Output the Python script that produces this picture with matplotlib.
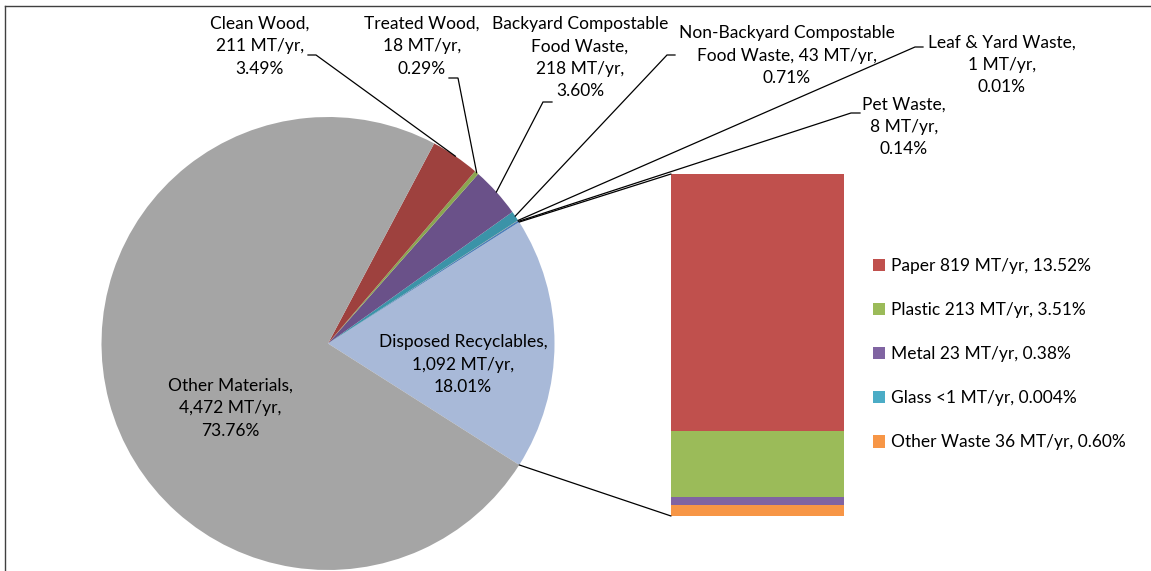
import matplotlib
matplotlib.use("Agg")
import matplotlib.pyplot as plt
from matplotlib.patches import ConnectionPatch
import numpy as np

plt.rcParams['font.family'] = ['Lato', 'DejaVu Sans']

# ---------------- data ----------------
pie_categories = ["Disposed Recyclables", "Pet Waste", "Leaf & Yard Waste",
                  "Non-Backyard Compostable Food Waste", "Backyard Compostable Food Waste",
                  "Treated Wood", "Clean Wood", "Other Materials"]
pie_values = [1092, 8, 1, 43, 218, 18, 211, 4472]
pie_labels = ["Disposed Recyclables,\n1,092 MT/yr,\n18.01%",
              "Pet Waste,\n8 MT/yr,\n0.14%",
              "Leaf & Yard Waste,\n1 MT/yr,\n0.01%",
              "Non-Backyard Compostable\nFood Waste, 43 MT/yr,\n0.71%",
              "Backyard Compostable\nFood Waste,\n218 MT/yr,\n3.60%",
              "Treated Wood,\n18 MT/yr,\n0.29%",
              "Clean Wood,\n211 MT/yr,\n3.49%",
              "Other Materials,\n4,472 MT/yr,\n73.76%"]
pie_colors = ["#A8B9D8", "#4A7EBB", "#D3823E", "#3B93A8", "#6A5189",
              "#8AA650", "#9E413E", "#A5A5A5"]

bar_categories = ["Other Waste", "Glass", "Metal", "Plastic", "Paper"]
bar_values = [36, 0.24, 23, 213, 819]
bar_labels = ["Other Waste 36 MT/yr, 0.60%", "Glass <1 MT/yr, 0.004%",
              "Metal 23 MT/yr, 0.38%", "Plastic 213 MT/yr, 3.51%",
              "Paper 819 MT/yr, 13.52%"]
bar_colors = ["#F79646", "#4BACC6", "#8064A2", "#9BBB59", "#C0504D"]

# ---------------- layout ----------------
W, H = 1151, 571
def Y(p):
    return H - p

fig = plt.figure(figsize=(W / 100, H / 100), dpi=100)
ax = fig.add_axes([0, 0, 1, 1])

cx, cy, R = 328, 343.5, 226.5
dr_angle = pie_values[0] / sum(pie_values) * 360.0
wedges, _ = ax.pie(pie_values, colors=pie_colors, startangle=-dr_angle / 2,
                   counterclock=True, center=(cx, Y(cy)), radius=R,
                   wedgeprops=dict(linewidth=0), frame=True)
ax.set_xlim(0, W)
ax.set_ylim(0, H)
ax.set_aspect('equal')
ax.axis('off')

# chart border (top and left visible)
ax.plot([5, W + 5], [Y(6), Y(6)], color="#404040", lw=1.0, clip_on=False)
ax.plot([5, 5], [Y(6), -5], color="#404040", lw=1.0, clip_on=False)

fs = 12.5
ls = 1.5
# label layout: (center x, center y, tick start x, tick end x / leader start, tick y)
label_layout = {
    "Clean Wood": (260, 46, 308, 316, 55),
    "Treated Wood": (422, 46, 449, 458, 78),
    "Backyard Compostable Food Waste": (580, 57.5, 552, 543, 102),
    "Non-Backyard Compostable Food Waste": (787, 55.5, 675, 667, 55),
    "Leaf & Yard Waste": (1002, 65, 923, 915, 47),
    "Pet Waste": (904, 127, 860, 851, 113),
}

for w, cat, lab in zip(wedges, pie_categories, pie_labels):
    mid = np.deg2rad((w.theta1 + w.theta2) / 2)
    ex = w.center[0] + w.r * np.cos(mid)
    ey = w.center[1] + w.r * np.sin(mid)
    if cat in label_layout:
        lx, ly, t0, t1, ty = label_layout[cat]
        ax.text(lx, Y(ly), lab, ha='center', va='center', fontsize=fs,
                linespacing=ls, color='black')
        ax.plot([t0, t1, ex], [Y(ty), Y(ty), ey], color='black', lw=0.9,
                solid_joinstyle='miter')
    elif cat == "Other Materials":
        ax.text(230, Y(408), lab, ha='center', va='center', fontsize=fs,
                linespacing=ls, color='black')
    else:
        ax.text(463, Y(365), lab, ha='center', va='center', fontsize=fs,
                linespacing=ls, color='black')

# ---------------- bar of pie ----------------
bx0, bx1, by0, by1 = 671, 844, 174, 516
ax2 = fig.add_axes([bx0 / W, (H - by1) / H, (bx1 - bx0) / W, (by1 - by0) / H])
bottom = 0
handles = []
for v, c, lab in zip(bar_values, bar_colors, bar_labels):
    b = ax2.bar(0, v, bottom=bottom, width=1.0, color=c, linewidth=0, label=lab)
    handles.append(b)
    bottom += v
ax2.set_xlim(-0.5, 0.5)
ax2.set_ylim(0, sum(bar_values))
ax2.axis('off')

# connectors
t_up = np.deg2rad(wedges[0].theta2)
t_lo = np.deg2rad(wedges[0].theta1)
for t, yb in [(t_up, sum(bar_values)), (t_lo, 0)]:
    p = (cx + R * np.cos(t), Y(cy) + R * np.sin(t))
    con = ConnectionPatch(xyA=p, coordsA=ax.transData, xyB=(-0.5, yb),
                          coordsB=ax2.transData, color='black', lw=0.9)
    fig.add_artist(con)

leg = fig.legend(handles[::-1], bar_labels[::-1], loc='upper left',
                 bbox_to_anchor=(873 / W, 1 - 258 / H), frameon=False,
                 fontsize=fs, handlelength=0.7, handleheight=0.7,
                 handletextpad=0.35, labelspacing=1.62, borderpad=0,
                 borderaxespad=0)

fig.savefig("out.png", dpi=100)
